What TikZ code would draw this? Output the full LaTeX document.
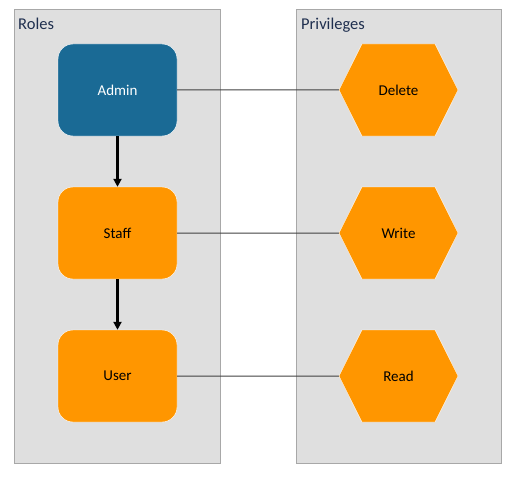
\documentclass[tikz,border=0pt]{standalone}
\usepackage{fontspec}
\setmainfont{Carlito}
\usetikzlibrary{arrows.meta,shapes.symbols}
\definecolor{panelfill}{RGB}{223,223,223}
\definecolor{panelline}{RGB}{168,168,168}
\definecolor{adminblue}{RGB}{26,106,149}
\definecolor{roleorange}{RGB}{255,150,0}
\definecolor{titleblue}{RGB}{31,47,79}
\newcommand*{\boxfont}{\fontsize{15}{18}\selectfont}
\tikzset{
  panel/.style={draw=panelline,fill=panelfill,line width=1pt},
  paneltitle/.style={anchor=base west,inner sep=0pt,text=titleblue,
    font=\fontsize{16.5}{20}\selectfont},
  role/.style={rectangle,rounded corners=15pt,draw=white,fill=roleorange,
    minimum width=119pt,minimum height=92pt,font=\boxfont},
  privilege/.style={signal,signal to=west and east,signal pointer angle=127,
    draw=white,fill=roleorange,minimum width=119pt,minimum height=92pt,
    font=\boxfont},
  grant/.style={draw=black!75,line width=1pt},
  inherits/.style={line width=3pt,-{Triangle[width=8pt,length=8pt]}}
}

\begin{document}
\begin{tikzpicture}[x=1pt,y=-1pt]
\useasboundingbox (0,0) rectangle (518,476);
% the two panels
\draw[panel] (14,10) rectangle (220,463);
\draw[panel] (296,10) rectangle (501,463);
\node[paneltitle] (rolestitle) at (18,30) {Roles};
\node[paneltitle] (privtitle) at (301,30) {Privileges};
% roles
\node[role,fill=adminblue,text=white] (admin) at (117.5,90) {Admin};
\node[role] (staff) at (117.5,233) {Staff};
\node[role] (user) at (117.5,376) {User};
% privileges
\node[privilege] (delete) at (398.5,90) {Delete};
\node[privilege] (write) at (398.5,233) {Write};
\node[privilege] (read) at (398.5,376) {Read};
\draw[inherits] (admin) -- (staff);
\draw[inherits] (staff) -- (user);
\draw[grant] (admin) -- (delete);
\draw[grant] (staff) -- (write);
\draw[grant] (user) -- (read);
\end{tikzpicture}
\end{document}
